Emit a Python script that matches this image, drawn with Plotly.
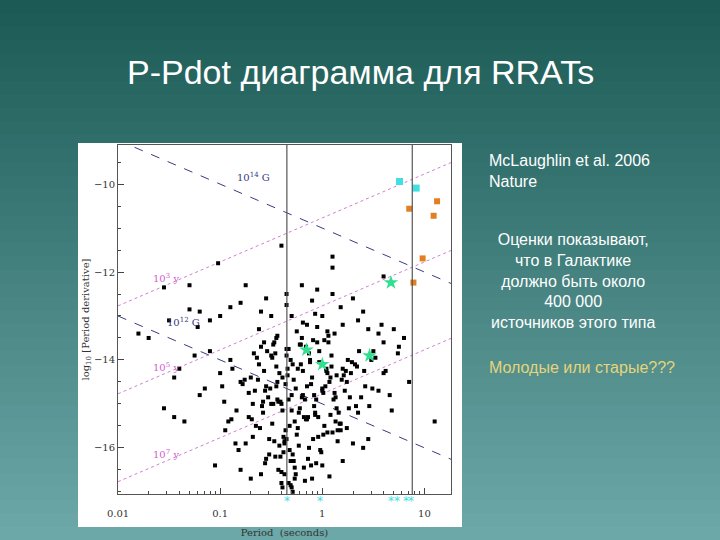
import numpy as np
import plotly.graph_objects as go

# log10 P (s) and log10 Pdot of the normal pulsars
psr_logp = [
    -0.40, -1.02, 0.10, 0.10, -1.30, -1.55, -0.75, -0.35, -0.20, -0.05, 0.10, 0.30, 0.60, 0.70,
    -1.80, -1.50, -1.70, -1.20, -1.10, -1.00, -0.90, -0.80, -0.60, -0.50, -0.45, -0.30, -0.15, 0.00,
    0.20, 0.35, 0.45, 0.55, 0.60, 0.75, 0.80, 0.50, 0.60, 0.55, 0.85, 0.35, 0.45, 1.10, -1.40, -1.45,
    -1.55, -1.45, -1.35, -1.20, -1.00, -0.90, -1.10, -1.25, -0.95, -0.85, -1.05, -0.80, -0.70, -0.60,
    -0.40, -0.30, -0.10, 0.00, 0.20, 0.30, 0.40, -0.62, -0.55, -0.48, -0.42, -0.36, -0.30, -0.24,
    -0.18, -0.12, -0.06, 0.02, 0.08, 0.14, 0.22, 0.28, -0.58, -0.50, -0.44, -0.38, -0.33, -0.27,
    -0.21, -0.15, -0.09, -0.03, 0.04, 0.11, 0.18, 0.25, -0.65, -0.56, -0.47, -0.40, -0.34, -0.28,
    -0.22, -0.16, -0.10, -0.04, 0.03, 0.09, 0.16, 0.24, 0.32, -0.70, -0.60, -0.52, -0.45, -0.37,
    -0.31, -0.25, -0.19, -0.13, -0.07, 0.00, 0.06, 0.13, 0.20, -0.54, -0.46, -0.39, -0.32, -0.26,
    -0.20, -0.14, -0.08, -0.01, 0.05, 0.12, -0.50, -0.43, -0.35, -0.29, -0.23, -0.17, -0.11, -0.05,
    0.01, 0.07, -0.75, -0.66, -0.80, -0.88, 0.36, 0.42, 0.48, 0.26, 0.15, -0.41, -0.37, -0.33,
    -0.29, -0.39, -0.35, -0.31, -0.44, -0.27, -0.57, -0.68, -0.92, -0.98, 0.58, 0.66, -0.62, -0.72,
    # second batch, densest part of the cloud
    -0.63, -0.59, -0.53, -0.49, -0.45, -0.41, -0.38, -0.34, -0.30, -0.26, -0.23, -0.19, -0.15, -0.11,
    -0.07, -0.03, 0.01, 0.05, 0.09, 0.13, 0.17, 0.21, -0.61, -0.57, -0.51, -0.47, -0.43, -0.39,
    -0.36, -0.32, -0.28, -0.24, -0.20, -0.16, -0.12, -0.08, -0.04, 0.00, 0.04, 0.08, 0.12, 0.19,
    -0.67, -0.55, -0.49, -0.42, -0.35, -0.29, -0.22, -0.18, -0.13, -0.06, 0.02, 0.10, 0.27, 0.33,
    -0.72, -0.64, -0.52, -0.46, -0.40, -0.33, -0.27, -0.21, -0.14, -0.09, -0.02, 0.06, 0.15, 0.23,
    -0.78, -0.69, -0.58, -0.48, -0.37, -0.25, -0.17, -0.05, 0.07, 0.18, 0.29, 0.38, 0.46, 0.52,
    -0.84, -0.76, -0.68, -0.56, -0.44, -0.31, -0.19, -0.07, 0.05, 0.14, 0.24, 0.34, 0.41, 0.49,
    -1.15, -1.22, -0.96, -0.89, -0.82, 0.62, 0.68, 0.74, -1.30, -0.35, -0.10, 0.18, 0.40, -0.55,
]
psr_logpdot = [
    -11.40, -11.80, -11.65, -11.90, -12.30, -12.35, -12.30, -12.50, -12.30, -12.40, -12.50, -12.60, -12.10, -13.30,
    -13.40, -13.10, -13.50, -12.90, -13.10, -13.00, -12.80, -12.70, -12.90, -13.00, -13.50, -13.00, -13.20, -13.00,
    -13.20, -13.10, -13.30, -13.40, -13.60, -13.70, -13.50, -13.80, -14.30, -14.70, -14.50, -15.20, -15.80, -15.40, -14.20, -14.40,
    -15.10, -15.30, -15.40, -14.80, -14.30, -14.00, -13.80, -13.90, -15.60, -15.90, -16.40, -16.50, -16.70, -16.60,
    -16.80, -16.90, -16.70, -16.40, -16.30, -15.90, -16.00, -14.10, -14.60, -15.00, -14.30, -15.60, -14.80, -14.20,
    -15.30, -14.00, -14.90, -15.50, -14.40, -15.10, -14.70, -14.30, -15.20, -13.90, -14.50, -16.10, -14.90, -15.40,
    -14.10, -14.60, -15.80, -13.80, -14.20, -14.90, -15.60, -14.00, -15.50, -14.70, -13.60, -15.00, -14.20, -16.30,
    -15.10, -13.70, -14.40, -15.30, -14.60, -13.90, -15.20, -14.50, -14.10, -14.40, -13.70, -15.80, -14.60, -15.90,
    -14.00, -15.70, -14.80, -16.00, -15.20, -14.70, -13.60, -15.40, -14.20, -13.80, -16.20, -14.40, -15.50, -16.60,
    -13.50, -15.30, -14.80, -16.10, -14.30, -13.40, -15.00, -16.50, -13.90, -14.10, -15.20, -14.90, -16.40, -13.60,
    -15.70, -14.50, -15.90, -14.70, -14.50, -14.20, -13.80, -14.60, -14.00, -15.10, -15.60, -16.20, -16.60, -16.80,
    -17.00, -16.90, -15.80, -16.30, -14.90, -16.70, -13.60, -15.00, -15.40, -14.60, -13.20, -14.80, -13.30, -15.30,
    -14.45, -15.05, -14.85, -15.45, -14.15, -14.95, -15.75, -14.35, -15.15, -14.65, -15.95, -14.25, -15.35, -14.55,
    -15.25, -14.05, -14.75, -15.65, -14.15, -14.85, -15.45, -14.35, -15.55, -14.25, -14.65, -15.85, -14.95, -15.15,
    -14.55, -16.05, -14.45, -15.55, -14.85, -15.35, -14.05, -15.05, -15.75, -14.65, -14.25, -15.25, -14.75, -14.45,
    -13.85, -16.25, -13.95, -15.95, -13.75, -16.15, -13.65, -16.45, -13.85, -16.35, -13.55, -15.65, -14.85, -15.05,
    -14.75, -13.95, -16.15, -13.85, -16.55, -13.75, -16.45, -13.65, -16.25, -13.55, -16.05, -13.45, -15.85, -14.25,
    -14.55, -15.35, -14.95, -13.65, -15.85, -13.35, -16.75, -13.25, -16.65, -15.45, -14.05, -14.85, -15.05, -13.95,
    -15.15, -14.45, -15.75, -16.35, -13.45, -16.85, -13.15, -12.95, -13.35, -14.35, -15.55, -14.15, -14.25, -14.65,
    -14.65, -13.25, -14.95, -15.35, -16.05, -14.25, -15.15, -13.85, -12.85, -12.75, -12.65, -12.80, -12.90, -12.60,
]

# magnetars / XDINS (cyan and orange squares), RRATs (green stars)
cyan_p = [5.7, 8.3]
cyan_pdot = [-9.94, -10.09]
orange_p = [7.1, 13.3, 12.3, 9.6, 7.8]
orange_pdot = [-10.56, -10.39, -10.72, -11.69, -12.24]
rrat_p = [4.7, 0.70, 1.0, 2.9]
rrat_pdot = [-12.24, -13.77, -14.10, -13.90]
rrat_np_p = [0.45, 0.96, 4.7, 5.4, 6.6, 7.4]  # RRATs without Pdot, under the axis

# reference lines: log Pdot at log P = -2 (slope -1 for B, +1 for age)
b_lines = {"10<sup>14</sup> G": -9.0, "10<sup>12</sup> G": -13.0}
age_lines = {"10<sup>3</sup> y": -12.77, "10<sup>5</sup> y": -14.77, "10<sup>7</sup> y": -16.77}

fig = go.Figure()

lp = np.array([-2.0, 1.3])
for name, y0 in b_lines.items():
    fig.add_trace(go.Scatter(x=10 ** lp, y=y0 - (lp + 2), mode="lines",
                             line=dict(color="#3a3a80", width=1, dash="dash"), showlegend=False))
for name, y0 in age_lines.items():
    fig.add_trace(go.Scatter(x=10 ** lp, y=y0 + (lp + 2), mode="lines",
                             line=dict(color="#d080d0", width=1, dash="dot"), showlegend=False))

fig.add_trace(go.Scatter(x=10 ** np.array(psr_logp), y=psr_logpdot, mode="markers",
                         marker=dict(symbol="square", size=4, color="black"), showlegend=False))
fig.add_trace(go.Scatter(x=cyan_p, y=cyan_pdot, mode="markers",
                         marker=dict(symbol="square", size=7, color="#40e0e0"), showlegend=False))
fig.add_trace(go.Scatter(x=orange_p, y=orange_pdot, mode="markers",
                         marker=dict(symbol="square", size=6, color="#e08020"), showlegend=False))
fig.add_trace(go.Scatter(x=rrat_p, y=rrat_pdot, mode="markers",
                         marker=dict(symbol="star", size=11, color="#30e090"), showlegend=False))
y_lo, y_hi = -17.05, -9.11
for p in rrat_np_p:
    fig.add_annotation(x=np.log10(p), yref="paper", y=(-17.22 - y_lo) / (y_hi - y_lo), text="*",
                       showarrow=False, yanchor="middle",
                       font=dict(family="DejaVu Sans", size=12, color="#40e0e0"))

labels = [(0.14, -9.83, "10<sup>14</sup> G", "#3a3a80"), (0.029, -13.13, "10<sup>12</sup> G", "#3a3a80"),
          (0.021, -12.13, "10<sup>3</sup> y", "#d060d0"), (0.021, -14.17, "10<sup>5</sup> y", "#d060d0"),
          (0.021, -16.13, "10<sup>7</sup> y", "#d060d0")]
for x, y, t, c in labels:
    fig.add_annotation(x=np.log10(x), y=y, text=t, showarrow=False, xanchor="left",
                       font=dict(family="DejaVu Serif", size=10, color=c))

for v in [0.45, 7.6]:
    fig.add_vline(x=v, line=dict(color="#555555", width=1.2))

# slide background gradient and white picture box
W, H, l, r, t, b = 720, 540, 118, 269, 145, 46
pw, ph = W - l - r, H - t - b
top, bot = np.array([0x1c, 0x5a, 0x56]), np.array([0x6c, 0xa8, 0xa8])
n = 40
for i in range(n):
    c = top + (bot - top) * i / (n - 1)
    y1 = (H - b - i * H / n) / ph
    y0 = (H - b - (i + 1) * H / n) / ph
    fig.add_shape(type="rect", xref="paper", yref="paper", x0=-l / pw, x1=(W - l) / pw,
                  y0=y0 - 0.002, y1=y1, fillcolor="rgb(%d,%d,%d)" % tuple(c), line_width=0, layer="below")
fig.add_shape(type="rect", xref="paper", yref="paper", x0=(78 - l) / pw, x1=(462 - l) / pw,
              y0=(H - b - 527) / ph, y1=(H - b - 143) / ph, fillcolor="white", line_width=0, layer="below")

axis_font = dict(family="DejaVu Serif", size=10, color="#333333")
fig.update_xaxes(type="log", range=[-2, 1.26], tickvals=[0.01, 0.1, 1, 10], ticktext=["0.01", "0.1", "1", "10"],
                 ticks="inside", ticklen=6, minor=dict(ticks="inside", ticklen=3, dtick="D1", showgrid=False),
                 ticklabelstandoff=10, automargin=False,
                 showline=True, mirror=True, linecolor="#555555", showgrid=False, zeroline=False,
                 tickfont=axis_font, title=dict(text="Period  (seconds)", font=axis_font, standoff=10))
fig.update_yaxes(range=[y_lo, y_hi], tickvals=[-10, -12, -14, -16], ticks="inside", ticklen=6,
                 minor=dict(ticks="inside", ticklen=3, dtick=0.5), showline=True, mirror=True,
                 linecolor="#555555", showgrid=False, zeroline=False, tickfont=axis_font, automargin=False,
                 title=dict(text="log<sub>10</sub> [Period derivative]", font=axis_font, standoff=2))


def py(ypix):
    return (H - b - ypix) / ph


txt = dict(family="Liberation Sans", size=16, color="white")
fig.add_annotation(xref="paper", yref="paper", x=(487 - l) / pw, y=py(171), xanchor="left", yanchor="middle",
                   align="left", showarrow=False, font=txt, text="McLaughlin et al. 2006<br>Nature")
fig.add_annotation(xref="paper", yref="paper", x=(573 - l) / pw, y=py(281), xanchor="center", yanchor="middle",
                   align="center", showarrow=False, font=txt,
                   text="Оценки показывают,<br>что в Галактике<br>должно быть около<br>400 000<br>источников этого типа")
fig.add_annotation(xref="paper", yref="paper", x=(487 - l) / pw, y=py(367), xanchor="left", yanchor="middle",
                   showarrow=False, font=dict(family="Liberation Sans", size=16, color="#e6d47a"),
                   text="Молодые или старые???")
fig.add_annotation(xref="paper", yref="paper", x=(360 - l) / pw, y=py(72), xanchor="center", yanchor="middle",
                   showarrow=False, font=dict(family="Liberation Sans", size=34, color="white"),
                   text="P-Pdot диаграмма для RRATs")

fig.update_layout(width=W, height=H, margin=dict(l=l, r=r, t=t, b=b), plot_bgcolor="white",
                  paper_bgcolor="#3a7a78")
fig.write_html("out.html", config={"displayModeBar": False},
               post_script="document.body.style.margin='0';")
